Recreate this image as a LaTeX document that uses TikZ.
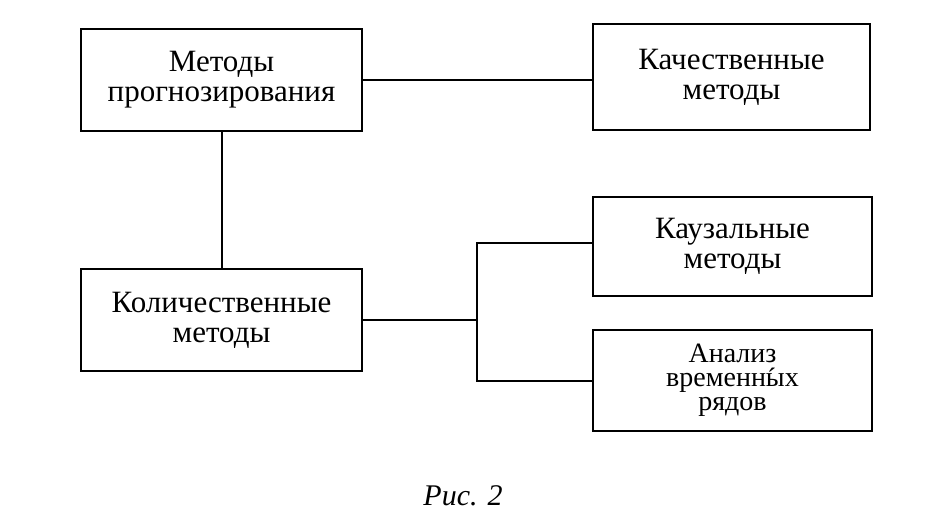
\documentclass[tikz,border=0pt]{standalone}
\usepackage{fontspec}
\setmainfont{Liberation Serif}
\begin{document}
\begin{tikzpicture}[x=1pt,y=-1pt,
  box/.style={draw, line width=2pt, inner sep=0pt, align=center, font=\fontsize{31}{30}\selectfont},
  conn/.style={line width=2pt}]
\useasboundingbox (0,0) rectangle (952,525);
\node[box, minimum width=281pt, minimum height=102pt] (m) at (221.5,80) {Методы\\прогнозирования};
\node[box, minimum width=277pt, minimum height=106pt] (q) at (731.5,77) {Качественные\\методы};
\node[box, minimum width=281pt, minimum height=102pt] (k) at (221.5,320) {Количественные\\методы};
\node[box, minimum width=279pt, minimum height=99pt] (c) at (732.5,246.5) {Каузальные\\методы};
\node[box, minimum width=279pt, minimum height=101pt, font=\fontsize{28}{24}\selectfont] (t) at (732.5,380.5) {Анализ\\временн{\ooalign{ы\cr\hidewidth\raisebox{-0.04em}{\kern-0.25em\char"00B4}\hidewidth\cr}}х\\рядов};
\coordinate (bus) at (477,320);
\draw[conn] (m.south) -- (k.north);
\draw[conn] (m.east) -- (m.east -| q.west);
\draw[conn] (k.east) -- (bus);
\draw[conn] ([yshift=4pt]c.west) -| (bus) |- (t.west);
\node[font=\itshape\fontsize{30}{30}\selectfont, anchor=base] (cap) at (463,505) {Рис. 2};
\end{tikzpicture}
\end{document}
